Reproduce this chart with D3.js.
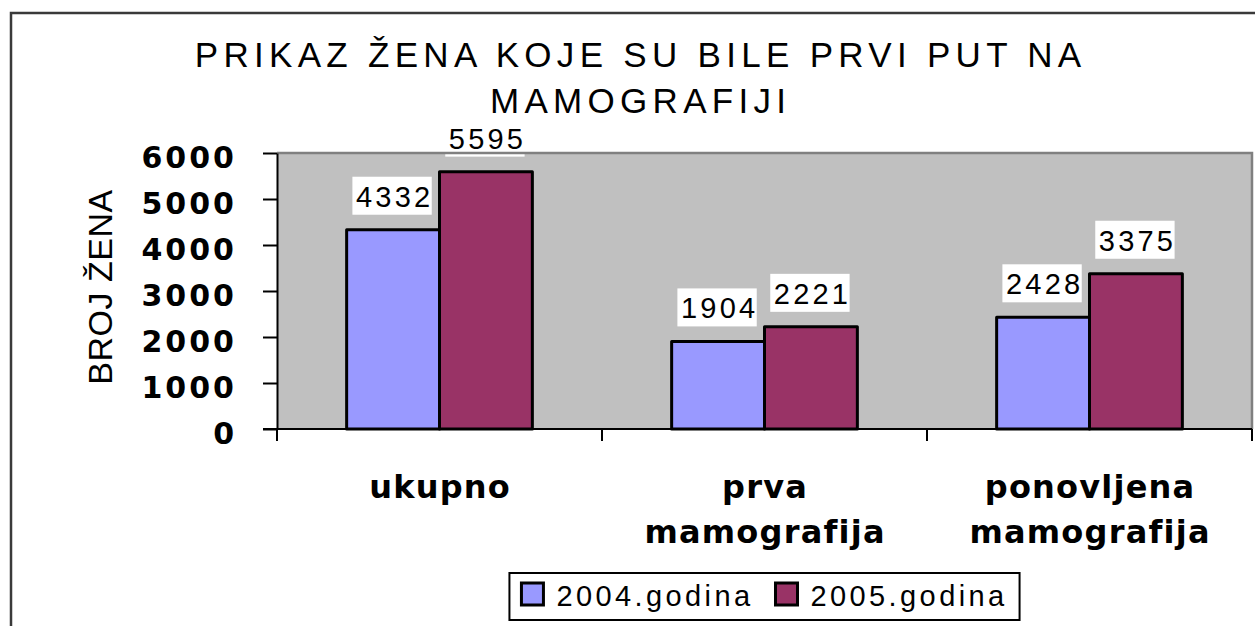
<!DOCTYPE html>
<html>
<head>
<meta charset="utf-8">
<script src="https://cdn.jsdelivr.net/npm/d3@7"></script>
<style>
  html, body { margin: 0; padding: 0; background: #fff; }
  svg { display: block; }
</style>
</head>
<body>
<svg id="chart" width="1255" height="626"></svg>
<script>
// ---- data ----
const titleLines = ["PRIKAZ ŽENA KOJE SU BILE PRVI PUT NA", "MAMOGRAFIJI"];
const yAxisTitle = "BROJ ŽENA";
const categories = ["ukupno", "prva mamografija", "ponovljena mamografija"];
const seriesNames = ["2004.godina", "2005.godina"];
const values2004 = [4332, 1904, 2428];
const values2005 = [5595, 2221, 3375];
const yTicks = [0, 1000, 2000, 3000, 4000, 5000, 6000];
const seriesColors = ["#9999ff", "#993366"];

const series = [values2004, values2005];

// ---- layout ----
const plot = { left: 277, right: 1252, top: 153, bottom: 429 };
const svg = d3.select("#chart");
const FONT = "'Liberation Sans', Arial, sans-serif";
const FONT_WIDE = "'DejaVu Sans', Verdana, sans-serif";

// outer chart border
svg.append("rect")
  .attr("x", 11).attr("y", 13).attr("width", 1300).attr("height", 700)
  .attr("fill", "#fff").attr("stroke", "#3a3a3a").attr("stroke-width", 2.5);

// scales
const x = d3.scaleBand().domain(categories).range([plot.left, plot.right]).paddingInner(0).paddingOuter(0);
const x1 = d3.scaleBand().domain(seriesNames).range([0, x.bandwidth()]).paddingInner(0).paddingOuter(0.75);
const y = d3.scaleLinear().domain([0, 6000]).range([plot.bottom, plot.top]);

// plot area
svg.append("rect")
  .attr("x", plot.left).attr("y", plot.top)
  .attr("width", plot.right - plot.left).attr("height", plot.bottom - plot.top)
  .attr("fill", "#c0c0c0");

// bars
seriesNames.forEach((s, si) => {
  svg.append("g").selectAll("rect")
    .data(categories.map((c, i) => ({ c, v: series[si][i] })))
    .join("rect")
    .attr("x", d => x(d.c) + x1(s))
    .attr("y", d => y(d.v))
    .attr("width", x1.bandwidth())
    .attr("height", d => y(0) - y(d.v))
    .attr("fill", seriesColors[si])
    .attr("stroke", "#000")
    .attr("stroke-width", 3)
    .attr("stroke-linejoin", "round");
});

// data labels with white boxes
const LS_LABEL = 3.2;
seriesNames.forEach((s, si) => {
  categories.forEach((c, i) => {
    const v = series[si][i];
    const cx = x(c) + x1(s) + x1.bandwidth() / 2;
    const base = y(v) - 23;
    const g = svg.append("g");
    const t = g.append("text")
      .attr("x", cx + LS_LABEL / 2).attr("y", base)
      .attr("text-anchor", "middle")
      .attr("font-family", FONT).attr("font-size", 29)
      .attr("letter-spacing", LS_LABEL)
      .attr("fill", "#000")
      .text(v);
    const w = t.node().getComputedTextLength();
    g.insert("rect", "text")
      .attr("x", cx - w / 2 - 2).attr("y", base - 30)
      .attr("width", w + 2).attr("height", 38)
      .attr("fill", "#fff");
  });
});

// plot border top/right (gray)
svg.append("path")
  .attr("d", `M${plot.left},${plot.top}H${plot.right}V${plot.bottom}`)
  .attr("fill", "none").attr("stroke", "#808080").attr("stroke-width", 2.5);

// y axis
const yAxis = svg.append("g")
  .attr("transform", `translate(${plot.left},0)`)
  .call(d3.axisLeft(y).tickValues(yTicks).tickFormat(d3.format("d"))
    .tickSize(14).tickPadding(26).tickSizeOuter(0));
yAxis.select(".domain").attr("stroke", "#000").attr("stroke-width", 2);
yAxis.selectAll(".tick line").attr("stroke", "#000").attr("stroke-width", 2);
yAxis.selectAll(".tick text")
  .attr("font-family", FONT_WIDE).attr("font-weight", "bold").attr("font-size", 30)
  .attr("letter-spacing", 3).attr("fill", "#000")
  .attr("dy", null).attr("y", 14);

// x axis line + boundary ticks
const xAxis = svg.append("g");
xAxis.append("line")
  .attr("x1", plot.left - 14).attr("x2", plot.right)
  .attr("y1", plot.bottom).attr("y2", plot.bottom)
  .attr("stroke", "#000").attr("stroke-width", 2);
const bounds = categories.map(c => x(c)).concat([x.range()[1]]);
xAxis.selectAll("line.tk").data(bounds).join("line")
  .attr("class", "tk")
  .attr("x1", d => d).attr("x2", d => d)
  .attr("y1", plot.bottom).attr("y2", plot.bottom + 12)
  .attr("stroke", "#000").attr("stroke-width", 2);

// category labels
const LS_CAT = 1.2;
categories.forEach(c => {
  const lines = c.split(" ");
  const t = svg.append("text")
    .attr("text-anchor", "middle")
    .attr("font-family", FONT_WIDE).attr("font-weight", "bold").attr("font-size", 32)
    .attr("letter-spacing", LS_CAT).attr("fill", "#000");
  lines.forEach((ln, li) => {
    t.append("tspan")
      .attr("x", x(c) + x.bandwidth() / 2 + LS_CAT / 2)
      .attr("y", 498 + li * 45)
      .text(ln);
  });
});

// y axis title
svg.append("text")
  .attr("transform", `translate(112,${(plot.top + plot.bottom) / 2 - 4}) rotate(-90)`)
  .attr("text-anchor", "middle")
  .attr("font-family", FONT).attr("font-size", 34)
  .attr("letter-spacing", 0.5).attr("fill", "#000")
  .text(yAxisTitle);

// title
const LS_TITLE = 5.3;
titleLines.forEach((ln, i) => {
  svg.append("text")
    .attr("x", 638 + LS_TITLE / 2).attr("y", 67 + i * 46)
    .attr("text-anchor", "middle")
    .attr("font-family", FONT).attr("font-size", 35)
    .attr("letter-spacing", LS_TITLE).attr("fill", "#000")
    .text(ln);
});

// legend
const LS_LEG = 3.4;
const legend = svg.append("g");
let cursor = 0;
seriesNames.forEach((s, si) => {
  const g = legend.append("g");
  g.append("rect")
    .attr("x", cursor).attr("y", 0).attr("width", 22).attr("height", 22)
    .attr("fill", seriesColors[si]).attr("stroke", "#000").attr("stroke-width", 3);
  const t = g.append("text")
    .attr("x", cursor + 35).attr("y", 23)
    .attr("font-family", FONT).attr("font-size", 29)
    .attr("letter-spacing", LS_LEG).attr("fill", "#000")
    .text(s);
  const w = t.node().getComputedTextLength();
  cursor += 35 + w + 22;
});
const legW = cursor - 22 + 12 + 12;
const legX = (plot.left + plot.right) / 2 - legW / 2;
legend.insert("rect", "g")
  .attr("x", -12).attr("y", -10).attr("width", legW).attr("height", 47)
  .attr("fill", "#fff").attr("stroke", "#000").attr("stroke-width", 2);
legend.attr("transform", `translate(${legX + 12},583)`);
</script>
</body>
</html>
